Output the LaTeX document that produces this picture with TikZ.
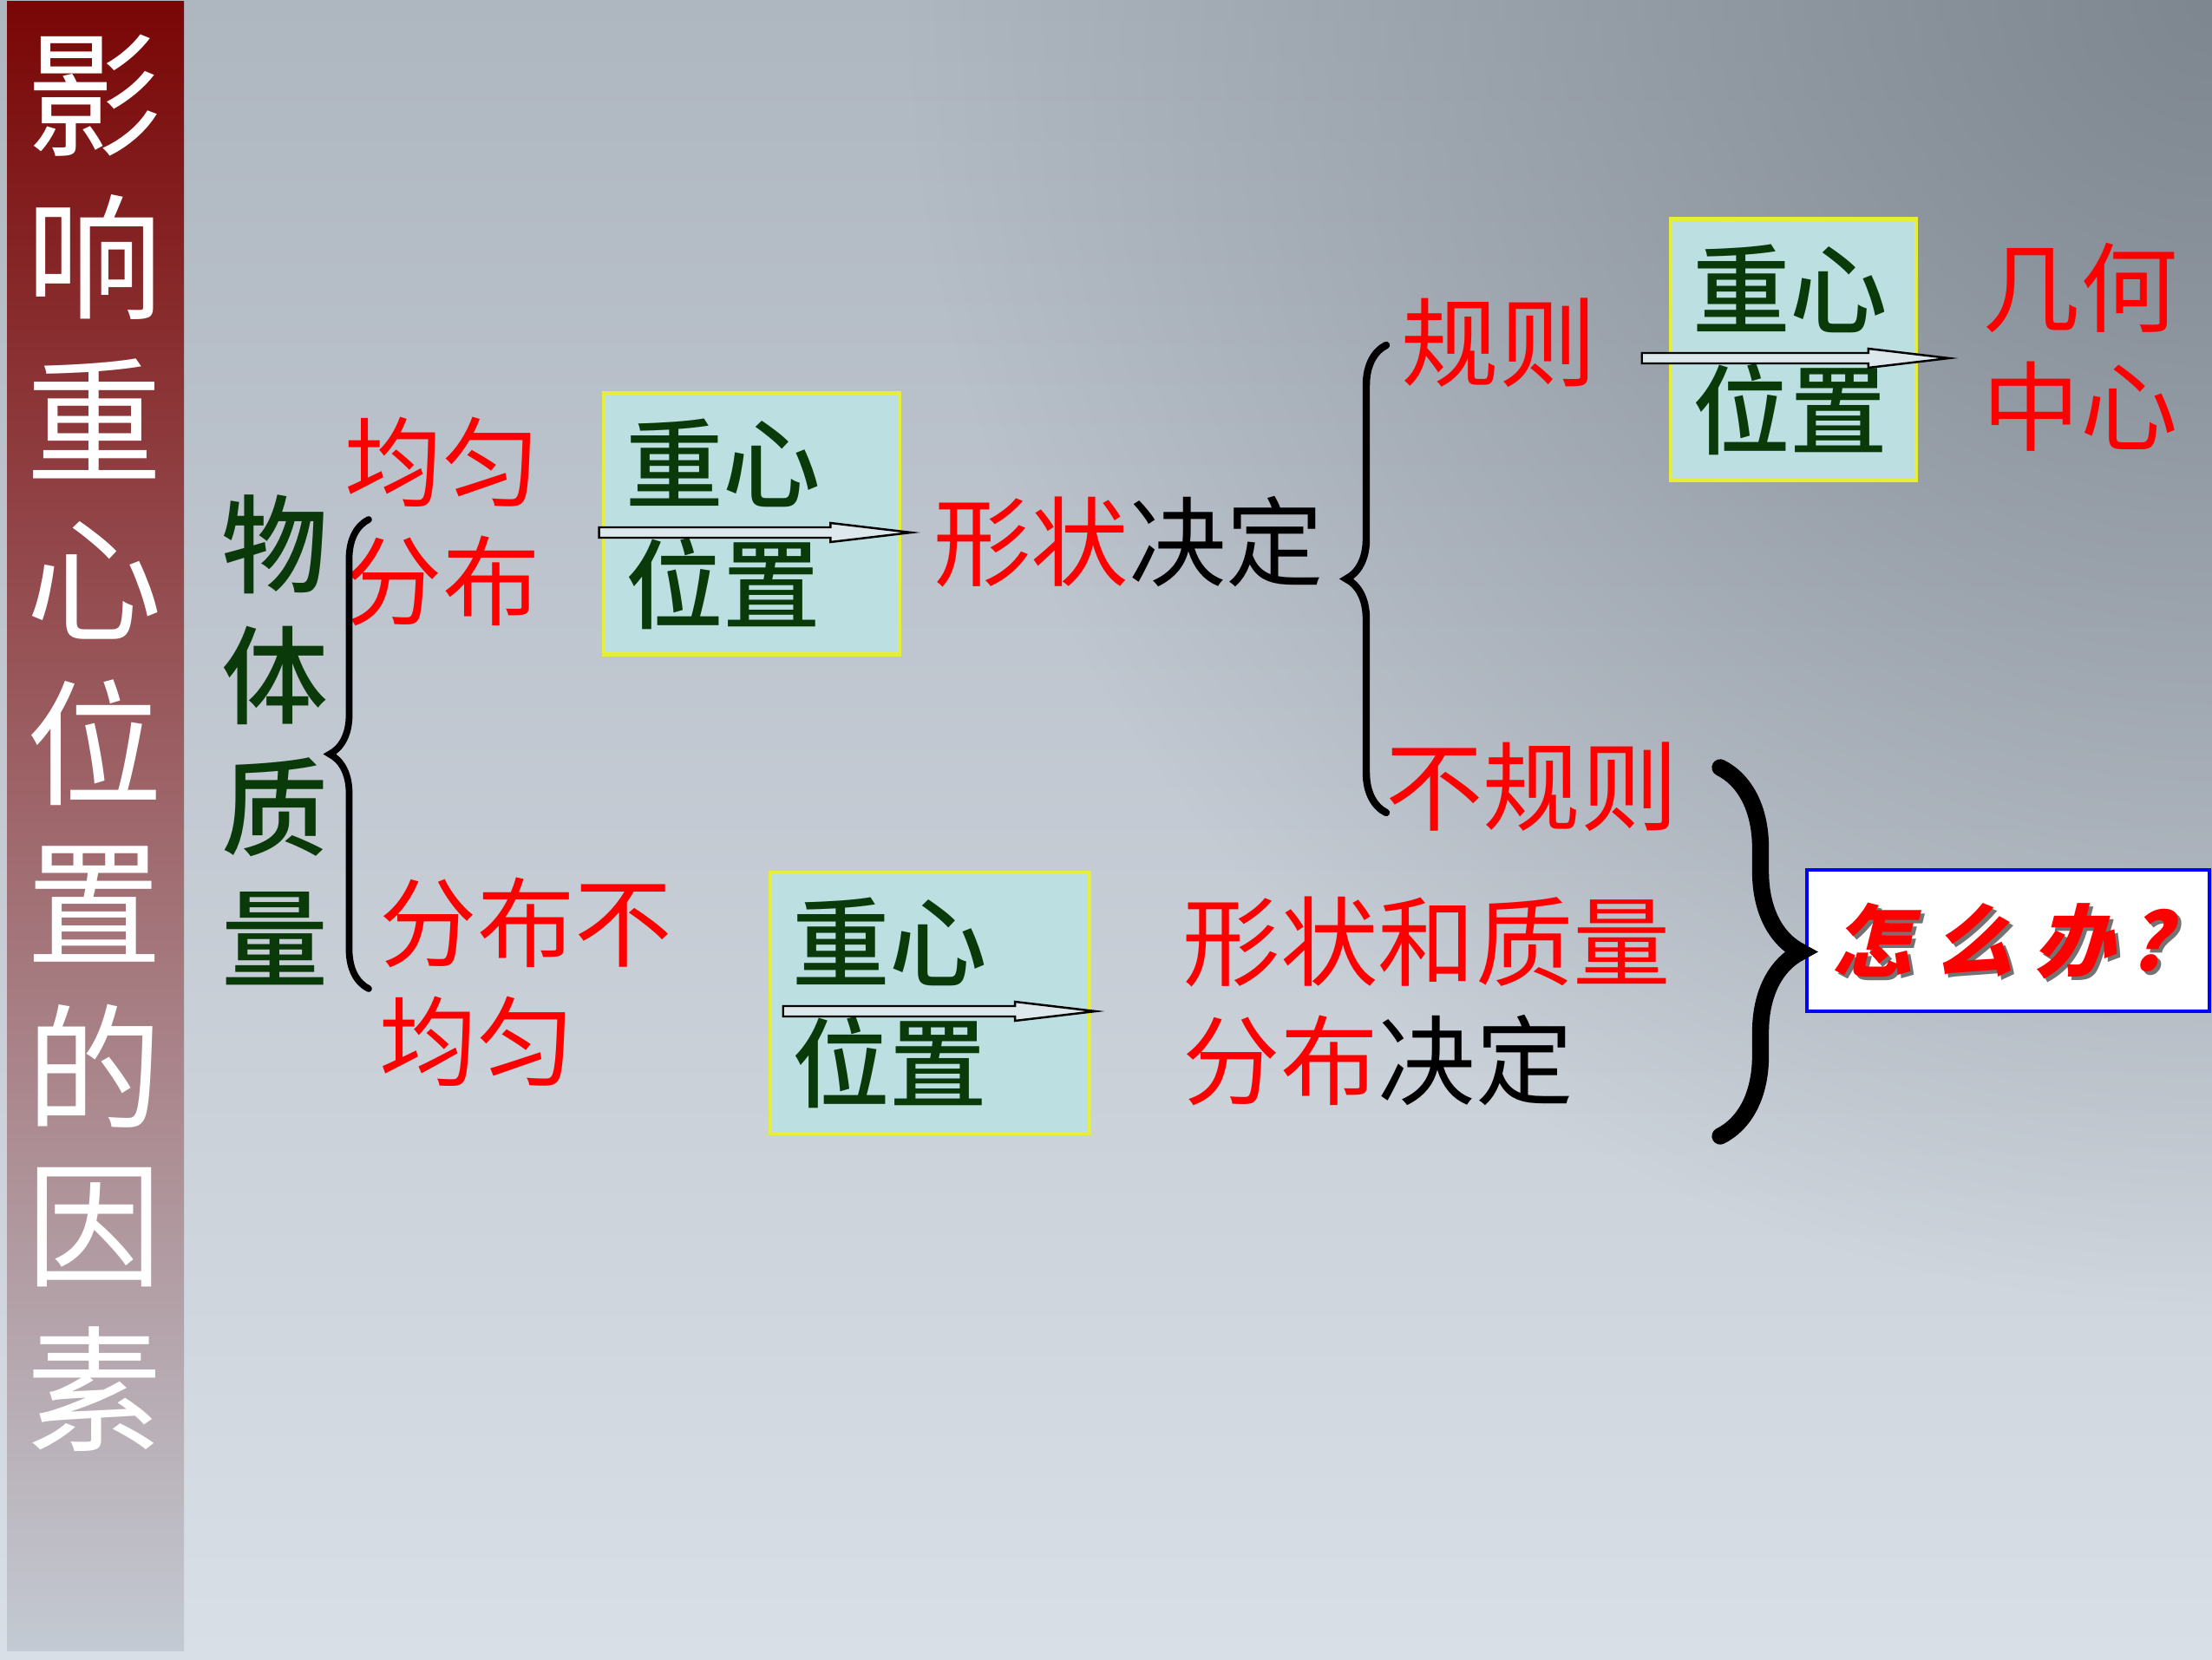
\documentclass[tikz,border=0pt]{standalone}
\usepackage{fontspec}
\usetikzlibrary{calc,decorations.pathreplacing,fadings}
\newfontfamily\cjk{Noto Sans CJK SC}
\newfontfamily\cjkmid{Noto Sans CJK SC Medium}
\newfontfamily\brush[FakeSlant=0.25]{Noto Sans CJK SC}
\definecolor{bar}{HTML}{7A0606}
\definecolor{barmid}{HTML}{8E7C84}
\definecolor{barlow}{HTML}{C3CAD3}
\definecolor{bgtop}{HTML}{AEB6C0}
\definecolor{bgmid}{HTML}{CFD6DD}
\definecolor{bglow}{HTML}{D9DFE6}
\definecolor{bgcorner}{HTML}{7E8690}
\definecolor{leaf}{HTML}{0A3A0A}
\definecolor{tint}{HTML}{BCE0E1}
\definecolor{lemon}{HTML}{E6EE3A}
\definecolor{pale}{HTML}{DCE8EC}
\tikzfading[name=corner,inner color=transparent!0,outer color=transparent!100]
\newcommand{\blockarr}[2]{\draw[barr] let \p1=(#1),\p2=(#2) in (\x1,\y1+0.6mm)--(\x2-9.3mm,\y1+0.6mm)--(\x2-9.3mm,\y1+1.1mm)--(\x2,\y1)--(\x2-9.3mm,\y1-1.1mm)--(\x2-9.3mm,\y1-0.6mm)--(\x1,\y1-0.6mm)--cycle;}

\begin{document}
\begin{tikzpicture}[every node/.style={inner sep=0pt},
 txt/.style={font=\cjk\fontsize{32}{39}\selectfont,text=red,align=left},
 posbox/.style={draw=lemon,line width=1.3pt,fill=tint,minimum height=3.01cm,inner xsep=2.5mm,align=left,text=leaf,font=\cjkmid\fontsize{32}{39.5}\selectfont},
 barr/.style={draw=black,line width=0.7pt,fill=pale},
 brc/.style={decorate,decoration={brace,amplitude=#1},line cap=round}]
\useasboundingbox (0,0) rectangle (25.5,19.13);
\begin{scope}
\clip (0,0) rectangle (25.5,19.13);
\shade[top color=bgtop,middle color=bgmid,bottom color=bglow] (0,0) rectangle (25.5,19.13);
\fill[bgcorner,path fading=corner] (25.5,19.13) circle (15);
\end{scope}
\shade[top color=bar,middle color=barmid,bottom color=barlow] (0.08,0.10) rectangle (2.12,19.11);
\foreach \c [count=\i from 0] in {影,响,重,心,位,置,的,因,素}
 \node[text=white,font=\cjk\fontsize{44.6}{50}\selectfont] (t\i) at (1.09,18.03-1.865*\i) {\c};
\node[font=\cjkmid\fontsize{35}{43.1}\selectfont,text=leaf,align=center] (mass) at (3.17,10.595) {物\\体\\质\\量};
\node[txt] (even) at (5.10,13.115) {均匀\\分布};
\node[txt,anchor=west] (uneven) at (4.37,7.805) {分布不\\均匀};
\node[posbox,text width=2.91cm] (pos1) at (8.665,13.09) {重心\\位置};
\node[posbox,text width=2.33cm] (pos2) at (20.675,15.10) {重心\\位置};
\node[posbox,text width=3.18cm] (pos3) at (10.72,7.565) {重心\\位置};
\node[txt,text=black] (shape) at (13.01,12.88) {\textcolor{red}{形状}决定};
\node[txt] (rule) at (17.28,15.18) {规则};
\node[txt] (irr) at (17.66,10.06) {不规则};
\node[txt] (geo) at (23.98,15.125) {几何\\中心};
\node[txt,anchor=west] (both) at (13.63,7.59) {形状和质量\\分布\textcolor{black}{决定}};
\node[draw=blue,line width=1.2pt,fill=white,minimum width=4.64cm,minimum height=1.63cm] (what) at (23.15,8.285) {};
\node[text=black!55,font=\brush\bfseries\fontsize{26}{30}\selectfont] (whs) at (23.11,8.24) {怎\hspace{2.5mm}么\hspace{2.5mm}办\hspace{1.5mm}?};
\node[text=red,font=\brush\bfseries\fontsize{26}{30}\selectfont] (wht) at (23.07,8.28) {怎\hspace{2.5mm}么\hspace{2.5mm}办\hspace{1.5mm}?};
\draw[brc=4.5mm,line width=2.2pt] (4.25,7.73) -- (4.25,13.14);
\draw[brc=4.6mm,line width=2.4pt] (15.98,9.76) -- (15.98,15.15);
\draw[brc=9.3mm,line width=5.5pt] (19.83,10.28) -- (19.83,6.03);
\blockarr{$(pos1.west)+(-0.03,-0.10)$}{$(shape.west)+(-0.25,0)$}
\blockarr{$(pos2.west)+(-0.31,-0.10)$}{$(geo.west)+(-0.38,0)$}
\blockarr{$(pos3.west)+(0.17,-0.095)$}{$(both.west)+(-1.0,0)$}
\end{tikzpicture}
\end{document}
